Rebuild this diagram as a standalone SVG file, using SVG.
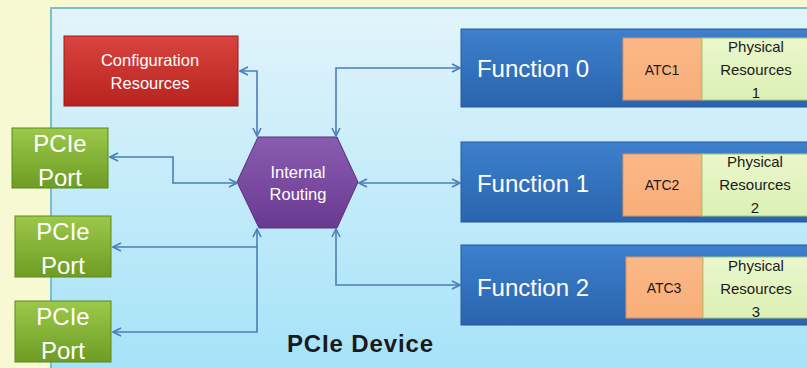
<svg xmlns="http://www.w3.org/2000/svg" width="807" height="368" viewBox="0 0 807 368">
<defs>
<linearGradient id="gDev" x1="0" y1="0" x2="0" y2="1"><stop offset="0" stop-color="#e2f4fb"/><stop offset="1" stop-color="#a4e2f8"/></linearGradient>
<linearGradient id="gRed" x1="0" y1="0" x2="0" y2="1"><stop offset="0" stop-color="#d9443f"/><stop offset="1" stop-color="#b8221f"/></linearGradient>
<linearGradient id="gGreen" x1="0" y1="0" x2="0" y2="1"><stop offset="0" stop-color="#9cc94a"/><stop offset="1" stop-color="#6e9c24"/></linearGradient>
<linearGradient id="gPurple" x1="0" y1="0" x2="0" y2="1"><stop offset="0" stop-color="#8a5cb0"/><stop offset="1" stop-color="#6a3a90"/></linearGradient>
<linearGradient id="gBlue" x1="0" y1="0" x2="0" y2="1"><stop offset="0" stop-color="#3d80cc"/><stop offset="1" stop-color="#2a64ae"/></linearGradient>
<linearGradient id="gOrange" x1="0" y1="0" x2="0" y2="1"><stop offset="0" stop-color="#fbb888"/><stop offset="1" stop-color="#f8ae78"/></linearGradient>
<linearGradient id="gPale" x1="0" y1="0" x2="0" y2="1"><stop offset="0" stop-color="#eaf7cc"/><stop offset="1" stop-color="#dcf0b4"/></linearGradient>
<marker id="arr" viewBox="0 0 10 10" refX="9" refY="5" markerWidth="10" markerHeight="10" markerUnits="userSpaceOnUse" orient="auto-start-reverse">
<path d="M1,1 L9,5 L1,9" fill="none" stroke="#4a7ebb" stroke-width="1.6"/>
</marker>
</defs>
<style>
text{font-family:"Liberation Sans",Arial,sans-serif;text-anchor:middle}
.w{fill:#ffffff}
.d{fill:#1a1a1a}
.big{font-size:24px}
.mid{font-size:15px}
.lab{font-size:16.5px}
.sm{font-size:14px}
.conn{fill:none;stroke:#4a7ebb;stroke-width:1.6}
.fn{fill:url(#gBlue);stroke:#2458a0;stroke-width:1}
.atc{fill:url(#gOrange);stroke:#e09060;stroke-width:1}
.phy{fill:url(#gPale);stroke:#a8c878;stroke-width:1}
.port{fill:url(#gGreen);stroke:#5a8a1a;stroke-width:1}
</style>
<rect x="0" y="0" width="807" height="368" fill="#f7f9d2"/>
<g id="device">
<rect x="51" y="8" width="770" height="372" fill="url(#gDev)" stroke="#7cbfcc" stroke-width="2"/>
<text x="360" y="352" class="d" style="font-size:24px;font-weight:bold" textLength="146">PCIe Device</text>
</g>
<g id="config">
<rect x="64" y="36" width="174" height="70" fill="url(#gRed)" stroke="#9a1a18" stroke-width="1"/>
<text x="150" y="66" class="w lab">Configuration</text>
<text x="150" y="89" class="w lab">Resources</text>
</g>
<g id="port1">
<rect x="12" y="128" width="96" height="60" class="port"/>
<text x="60" y="152" class="w big">PCIe</text>
<text x="60" y="186" class="w big">Port</text>
</g>
<g id="port2">
<rect x="15" y="216" width="96" height="61" class="port"/>
<text x="63" y="240" class="w big">PCIe</text>
<text x="63" y="274" class="w big">Port</text>
</g>
<g id="port3">
<rect x="15" y="301" width="96" height="61" class="port"/>
<text x="63" y="325" class="w big">PCIe</text>
<text x="63" y="359" class="w big">Port</text>
</g>
<g id="routing">
<polygon points="258,137 337,137 358,182 337,228 259,228 237,182" fill="url(#gPurple)" stroke="#5a2e80" stroke-width="1"/>
<text x="298" y="178" class="w lab">Internal</text>
<text x="298" y="200" class="w lab">Routing</text>
</g>
<g id="function0">
<rect x="461" y="29" width="360" height="78" class="fn"/>
<text x="533" y="77" class="w big">Function 0</text>
<rect x="623" y="38" width="79" height="62" class="atc"/>
<text x="662" y="75" class="d sm">ATC1</text>
<rect x="702" y="38" width="115" height="62" class="phy"/>
<text x="756" y="52" class="d mid">Physical</text>
<text x="756" y="75" class="d mid">Resources</text>
<text x="756" y="98" class="d mid">1</text>
</g>
<g id="function1">
<rect x="461" y="142" width="360" height="80" class="fn"/>
<text x="533" y="192" class="w big">Function 1</text>
<rect x="623" y="154" width="79" height="62" class="atc"/>
<text x="662" y="190" class="d sm">ATC2</text>
<rect x="702" y="154" width="115" height="62" class="phy"/>
<text x="755" y="167" class="d mid">Physical</text>
<text x="755" y="190" class="d mid">Resources</text>
<text x="755" y="213" class="d mid">2</text>
</g>
<g id="function2">
<rect x="461" y="245" width="360" height="80" class="fn"/>
<text x="533" y="296" class="w big">Function 2</text>
<rect x="626" y="257" width="77" height="61" class="atc"/>
<text x="664" y="293" class="d sm">ATC3</text>
<rect x="703" y="257" width="115" height="61" class="phy"/>
<text x="756" y="271" class="d mid">Physical</text>
<text x="756" y="294" class="d mid">Resources</text>
<text x="756" y="317" class="d mid">3</text>
</g>
<g id="connectors">
<path class="conn" d="M240,71 H257 V136" marker-start="url(#arr)" marker-end="url(#arr)"/>
<path class="conn" d="M336,136 V68 H460" marker-start="url(#arr)" marker-end="url(#arr)"/>
<path class="conn" d="M110,157 H173 V183 H237" marker-start="url(#arr)" marker-end="url(#arr)"/>
<path class="conn" d="M359,183 H460" marker-start="url(#arr)" marker-end="url(#arr)"/>
<path class="conn" d="M257,229 V332 H113" marker-start="url(#arr)" marker-end="url(#arr)"/>
<path class="conn" d="M257,247 H113" marker-end="url(#arr)"/>
<path class="conn" d="M336,229 V285 H460" marker-start="url(#arr)" marker-end="url(#arr)"/>
</g>
</svg>
